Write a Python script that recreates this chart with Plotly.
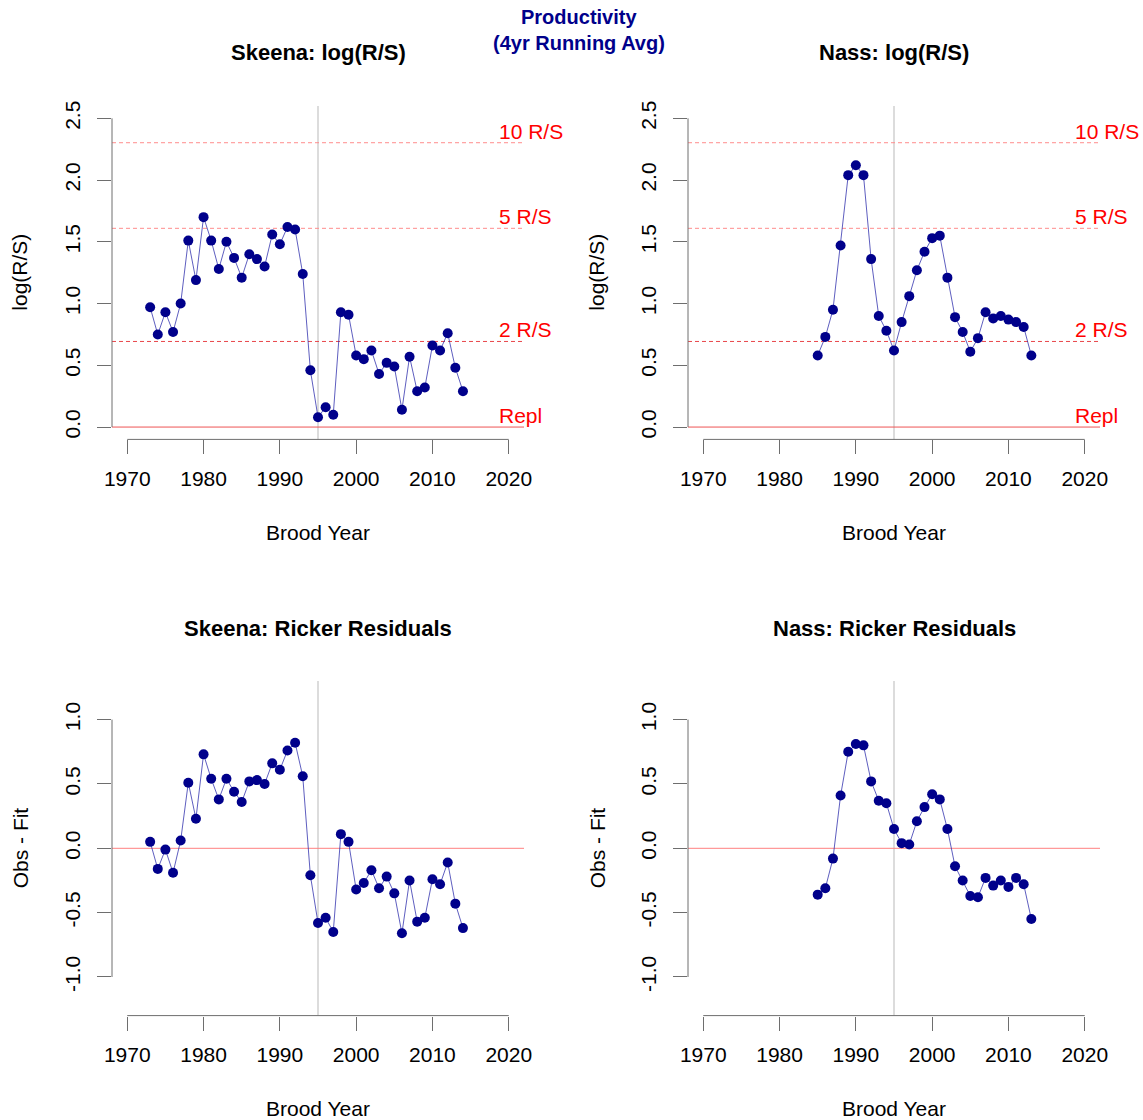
import math
import plotly.graph_objects as go

# ---- data -------------------------------------------------------------
skeena_years = list(range(1973, 2015))
skeena_logrs = [0.97, 0.75, 0.93, 0.77, 1.00, 1.51, 1.19, 1.70, 1.51, 1.28,
                1.50, 1.37, 1.21, 1.40, 1.36, 1.30, 1.56, 1.48, 1.62, 1.60,
                1.24, 0.46, 0.08, 0.16, 0.10, 0.93, 0.91, 0.58, 0.55, 0.62,
                0.43, 0.52, 0.49, 0.14, 0.57, 0.29, 0.32, 0.66, 0.62, 0.76,
                0.48, 0.29]
skeena_resid = [0.05, -0.16, -0.01, -0.19, 0.06, 0.51, 0.23, 0.73, 0.54, 0.38,
                0.54, 0.44, 0.36, 0.52, 0.53, 0.50, 0.66, 0.61, 0.76, 0.82,
                0.56, -0.21, -0.58, -0.54, -0.65, 0.11, 0.05, -0.32, -0.27, -0.17,
                -0.31, -0.22, -0.35, -0.66, -0.25, -0.57, -0.54, -0.24, -0.28, -0.11,
                -0.43, -0.62]

nass_years = list(range(1985, 2014))
nass_logrs = [0.58, 0.73, 0.95, 1.47, 2.04, 2.12, 2.04, 1.36, 0.90, 0.78,
              0.62, 0.85, 1.06, 1.27, 1.42, 1.53, 1.55, 1.21, 0.89, 0.77,
              0.61, 0.72, 0.93, 0.88, 0.90, 0.87, 0.85, 0.81, 0.58]
nass_resid = [-0.36, -0.31, -0.08, 0.41, 0.75, 0.81, 0.80, 0.52, 0.37, 0.35,
              0.15, 0.04, 0.03, 0.21, 0.32, 0.42, 0.38, 0.15, -0.14, -0.25,
              -0.37, -0.38, -0.23, -0.29, -0.25, -0.30, -0.23, -0.28, -0.55]

year_ticks = [1970, 1980, 1990, 2000, 2010, 2020]
logrs_ticks = [0.0, 0.5, 1.0, 1.5, 2.0, 2.5]
resid_ticks = [-1.0, -0.5, 0.0, 0.5, 1.0]

ref_labels = ["10 R/S", "5 R/S", "2 R/S", "Repl"]
ref_values = [math.log(10), math.log(5), math.log(2), 0.0]
break_year = 1995

# ---- page geometry ----------------------------------------------------
W, H = 1143, 1120
FONT = "Liberation Sans, Arial, sans-serif"
AXIS_GREY = "#6e6e6e"
DOT = "#00008B"
LINE = "rgba(40,40,170,0.75)"


def px_x(p):
    return p / W


def px_y(p):
    return 1 - p / H


left_dom = [px_x(112), px_x(524)]
right_dom = [px_x(688), px_x(1100)]
top_dom = [px_y(439.4), px_y(106)]
bot_dom = [px_y(1015.6), px_y(681)]

panels = [
    # (axis suffix, x domain, y domain, years, values, y range, y ticks, title, ylabel)
    ("", left_dom, top_dom, skeena_years, skeena_logrs, [-0.1, 2.6], logrs_ticks,
     "Skeena: log(R/S)", "log(R/S)"),
    ("2", right_dom, top_dom, nass_years, nass_logrs, [-0.1, 2.6], logrs_ticks,
     "Nass: log(R/S)", "log(R/S)"),
    ("3", left_dom, bot_dom, skeena_years, skeena_resid, [-1.3, 1.3], resid_ticks,
     "Skeena: Ricker Residuals", "Obs - Fit"),
    ("4", right_dom, bot_dom, nass_years, nass_resid, [-1.3, 1.3], resid_ticks,
     "Nass: Ricker Residuals", "Obs - Fit"),
]

fig = go.Figure()
shapes = []
annotations = []

for i, (sfx, xd, yd, yrs, vals, yr, yt, title, ylab) in enumerate(panels):
    xa, ya = "x" + sfx, "y" + sfx
    fig.add_trace(go.Scatter(
        x=yrs, y=vals, mode="lines+markers", xaxis=xa, yaxis=ya,
        line=dict(color=LINE, width=1),
        marker=dict(color=DOT, size=10, line=dict(width=0)),
        showlegend=False, hoverinfo="x+y",
    ))

    axis_common = dict(
        showgrid=False, zeroline=False, showline=False, automargin=False,
        ticks="outside", ticklen=14, tickwidth=1, tickcolor=AXIS_GREY,
        tickfont=dict(family=FONT, size=21, color="black"),
    )
    fig.update_layout(**{
        ("xaxis" + sfx): dict(domain=xd, range=[1968, 2022], anchor=ya,
                              tickvals=year_ticks, ticklabelstandoff=6,
                              **axis_common),
        ("yaxis" + sfx): dict(domain=yd, range=yr, anchor=xa,
                              tickvals=yt, ticktext=[f"{v:.1f}" for v in yt],
                              tickangle=-90, ticklabelstandoff=9,
                              **axis_common),
    })

    # axis lines spanning only the tick range
    shapes.append(dict(type="line", xref=xa, yref=ya + " domain",
                       x0=year_ticks[0], x1=year_ticks[-1], y0=0, y1=0,
                       line=dict(color=AXIS_GREY, width=1)))
    shapes.append(dict(type="line", xref=xa + " domain", yref=ya,
                       x0=0, x1=0, y0=yt[0], y1=yt[-1],
                       line=dict(color=AXIS_GREY, width=1)))

    # vertical marker at the regime break
    shapes.append(dict(type="line", xref=xa, yref=ya + " domain",
                       x0=break_year, x1=break_year, y0=0, y1=1, layer="below",
                       line=dict(color="#d0d0d0", width=1.5)))

    if ylab == "log(R/S)":
        for lab, val in zip(ref_labels, ref_values):
            if lab == "Repl":
                style = dict(color="#ee5555", width=1)
            elif lab == "2 R/S":
                style = dict(color="#e8454a", width=1, dash="4px,3px")
            else:
                style = dict(color="#ff8c8c", width=1, dash="4px,3px")
            shapes.append(dict(type="line", xref=xa + " domain", yref=ya,
                               x0=0, x1=1, y0=val, y1=val, layer="below",
                               line=style))
            annotations.append(dict(
                text=lab, xref=xa, yref=ya, x=2018.4, y=val,
                xanchor="left", yanchor="bottom", showarrow=False, yshift=-2,
                font=dict(family=FONT, size=21, color="#ff0000")))
    else:
        shapes.append(dict(type="line", xref=xa + " domain", yref=ya,
                           x0=0, x1=1, y0=0, y1=0, layer="below",
                           line=dict(color="#ff8080", width=1)))

    # panel title and axis titles
    cx = (xd[0] + xd[1]) / 2
    top_px = 52 if yd is top_dom else 628
    annotations.append(dict(
        text="<b>" + title + "</b>", xref="paper", yref="paper", x=cx,
        y=px_y(top_px), xanchor="center", yanchor="middle", showarrow=False,
        font=dict(family=FONT, size=22, color="black")))
    xlab_px = 532 if yd is top_dom else 1108
    annotations.append(dict(
        text="Brood Year", xref="paper", yref="paper", x=cx,
        y=px_y(xlab_px), xanchor="center", yanchor="middle", showarrow=False,
        font=dict(family=FONT, size=21, color="black")))
    ylab_x = 20 if xd is left_dom else 597
    annotations.append(dict(
        text=ylab, xref="paper", yref="paper", x=px_x(ylab_x),
        y=(yd[0] + yd[1]) / 2, xanchor="center", yanchor="middle",
        textangle=-90, showarrow=False,
        font=dict(family=FONT, size=21, color="black")))

# overall title
annotations.append(dict(
    text="<b>Productivity</b>", xref="paper", yref="paper", x=px_x(579),
    y=px_y(17), xanchor="center", yanchor="middle", showarrow=False,
    font=dict(family=FONT, size=20, color="#00008B")))
annotations.append(dict(
    text="<b>(4yr Running Avg)</b>", xref="paper", yref="paper", x=px_x(579),
    y=px_y(43), xanchor="center", yanchor="middle", showarrow=False,
    font=dict(family=FONT, size=20, color="#00008B")))

fig.update_layout(
    width=W, height=H,
    margin=dict(l=0, r=0, t=0, b=0),
    paper_bgcolor="white", plot_bgcolor="white",
    shapes=shapes, annotations=annotations,
    font=dict(family=FONT, color="black"),
)

# remove the default page margin so the figure sits flush in the window
fig.write_html(
    "out.html",
    post_script="document.body.style.margin='0';"
                "document.body.style.overflow='hidden';",
)
